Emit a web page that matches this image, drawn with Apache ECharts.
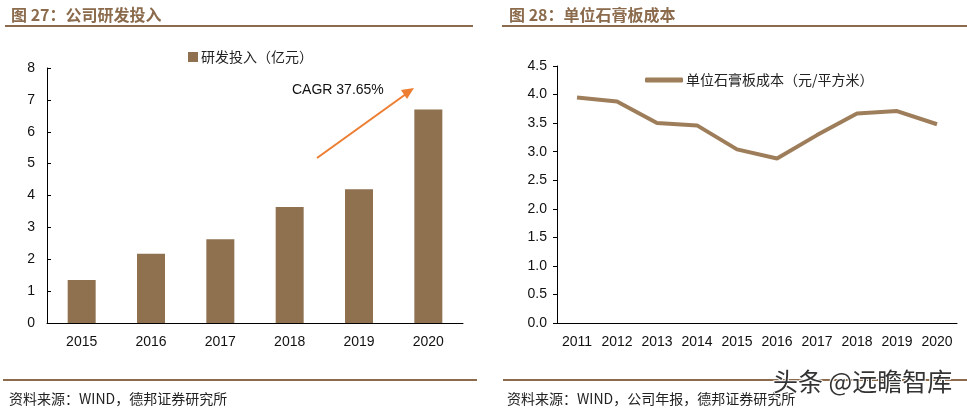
<!DOCTYPE html>
<html>
<head>
<meta charset="utf-8">
<script src="https://cdn.jsdelivr.net/npm/echarts@6/dist/echarts.min.js"></script>
<style>
html,body{margin:0;padding:0;background:#fff;}
#c{width:967px;height:411px;}
</style>
</head>
<body>
<div id="c"></div>
<script>
// ---- data ----
const rdYears = ['2015','2016','2017','2018','2019','2020'];
const rdValues = [1.35, 2.17, 2.63, 3.64, 4.20, 6.70];
const rdTicks = [0,1,2,3,4,5,6,7,8];
const costYears = ['2011','2012','2013','2014','2015','2016','2017','2018','2019','2020'];
const costValues = [3.95, 3.88, 3.50, 3.46, 3.04, 2.88, 3.29, 3.67, 3.71, 3.48];
const costTicks = [0,0.5,1.0,1.5,2.0,2.5,3.0,3.5,4.0,4.5];

const brown = '#8B6B4C';
const barColor = '#8F7150';
const lineColor = '#9E7E5A';
const cjk = '"Noto Sans CJK SC", sans-serif';
const latin = 'Arial, "Liberation Sans", sans-serif';

const chart = echarts.init(document.getElementById('c'));
chart.setOption({
  animation: false,
  backgroundColor: '#fff',
  title: [
    {text: '图 27：公司研发投入', left: 6, top: 2, textStyle: {fontFamily: cjk, fontSize: 16, fontWeight: 'bold', color: brown}},
    {text: '图 28：单位石膏板成本', left: 504, top: 2, textStyle: {fontFamily: cjk, fontSize: 16, fontWeight: 'bold', color: brown}},
    {text: '资料来源：WIND，德邦证券研究所', left: 4, top: 387, textStyle: {fontFamily: cjk, fontSize: 14, fontWeight: 'normal', color: '#222'}},
    {text: '资料来源：WIND，公司年报，德邦证券研究所', left: 502, top: 387, textStyle: {fontFamily: cjk, fontSize: 14, fontWeight: 'normal', color: '#222'}}
  ],
  legend: [
    {data: ['研发投入（亿元）'], left: 183, top: 45, icon: 'rect', itemWidth: 10, itemHeight: 10, itemGap: 2,
     textStyle: {fontFamily: cjk, fontSize: 14, color: '#222', padding: [0,0,0,-2]}},
    {data: ['单位石膏板成本（元/平方米）'], left: 640, top: 68, icon: 'roundRect', itemWidth: 38, itemHeight: 5,
     textStyle: {fontFamily: cjk, fontSize: 14, color: '#222', padding: [0,0,0,-2]}}
  ],
  grid: [
    {left: 47, top: 68, width: 416, height: 255},
    {left: 557, top: 66, width: 400, height: 257}
  ],
  xAxis: [
    {type: 'category', gridIndex: 0, data: rdYears,
     axisLine: {lineStyle: {color: '#000', width: 1}},
     axisTick: {inside: true, length: 4, lineStyle: {color: '#000'}},
     axisLabel: {fontFamily: latin, fontSize: 14, color: '#111', margin: 12}},
    {type: 'category', gridIndex: 1, data: costYears,
     axisLine: {lineStyle: {color: '#000', width: 1}},
     axisTick: {inside: true, length: 4, lineStyle: {color: '#000'}},
     axisLabel: {fontFamily: latin, fontSize: 14, color: '#111', margin: 12, interval: 0}}
  ],
  yAxis: [
    {type: 'value', gridIndex: 0, min: rdTicks[0], max: rdTicks[rdTicks.length-1], interval: 1,
     splitLine: {show: false},
     axisLine: {show: true, lineStyle: {color: '#000', width: 1}},
     axisTick: {show: true, inside: true, length: 4, lineStyle: {color: '#000'}},
     axisLabel: {fontFamily: latin, fontSize: 14, color: '#111', margin: 12}},
    {type: 'value', gridIndex: 1, min: costTicks[0], max: costTicks[costTicks.length-1], interval: 0.5,
     splitLine: {show: false},
     axisLine: {show: true, lineStyle: {color: '#000', width: 1}},
     axisTick: {show: true, inside: false, length: 4, lineStyle: {color: '#000'}},
     axisLabel: {fontFamily: latin, fontSize: 14, color: '#111', margin: 10,
       formatter: v => v.toFixed(1)}}
  ],
  series: [
    {name: '研发投入（亿元）', type: 'bar', xAxisIndex: 0, yAxisIndex: 0, data: rdValues,
     barWidth: 28, itemStyle: {color: barColor}},
    {name: '单位石膏板成本（元/平方米）', type: 'line', xAxisIndex: 1, yAxisIndex: 1, data: costValues,
     symbol: 'none', lineStyle: {color: lineColor, width: 4}, itemStyle: {color: lineColor}}
  ],
  graphic: [
    {type: 'rect', shape: {x: 5, y: 25, width: 468, height: 2}, style: {fill: brown}},
    {type: 'rect', shape: {x: 502, y: 25, width: 465, height: 2}, style: {fill: brown}},
    {type: 'rect', shape: {x: 3, y: 379, width: 474, height: 2}, style: {fill: brown}},
    {type: 'rect', shape: {x: 503, y: 379, width: 464, height: 2}, style: {fill: brown}},
    {type: 'line', shape: {x1: 317, y1: 158, x2: 406, y2: 94}, style: {stroke: '#ED7D31', lineWidth: 2}},
    {type: 'polygon', shape: {points: [[414, 88], [401, 90], [407, 99]]}, style: {fill: '#ED7D31'}},
    {type: 'text', left: 292, top: 83, style: {text: 'CAGR 37.65%', font: '14px Arial, "Liberation Sans", sans-serif', fill: '#111'}},
    {type: 'text', left: 772, top: 368, z: 100, style: {text: '头条 @远瞻智库', font: '25px "Noto Sans CJK SC", sans-serif', fill: '#333', stroke: '#fff', lineWidth: 2}}
  ]
});
</script>
</body>
</html>
